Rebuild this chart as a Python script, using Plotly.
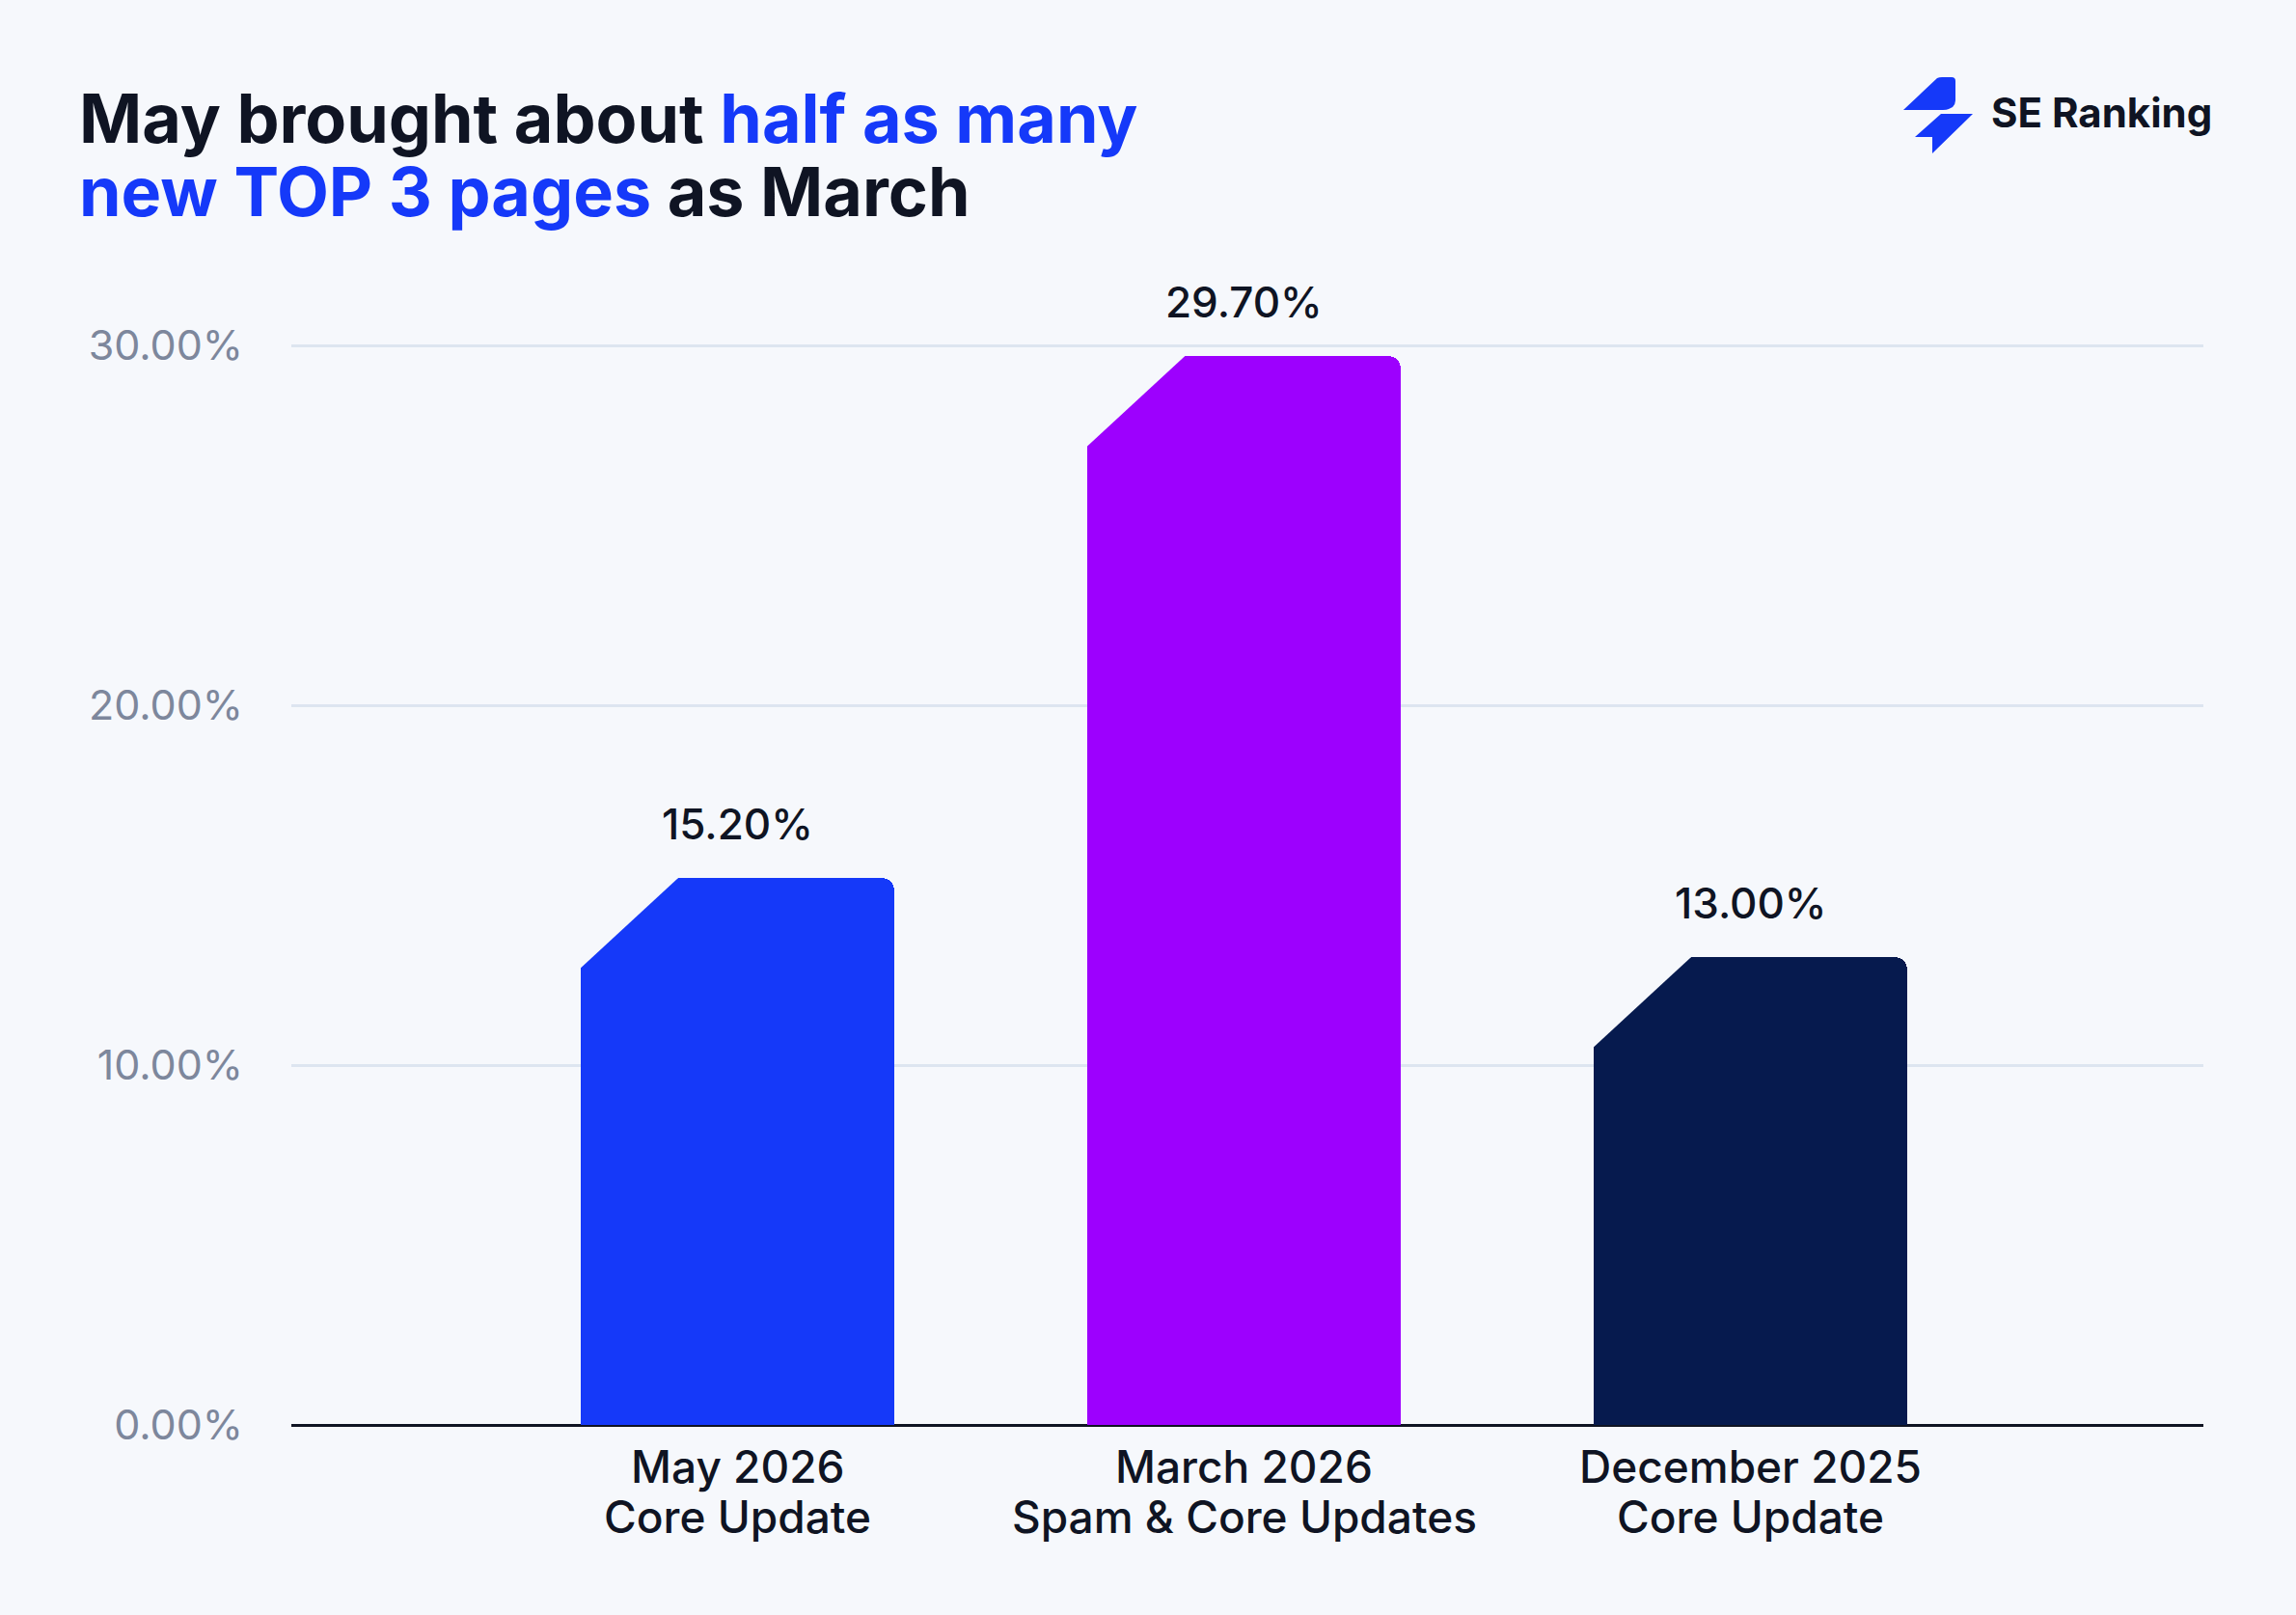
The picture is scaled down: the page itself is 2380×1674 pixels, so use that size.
import plotly.graph_objects as go

# ---- data ----
cat_line1 = ["May 2026", "March 2026", "December 2025"]
cat_line2 = ["Core Update", "Spam & Core Updates", "Core Update"]
values = [15.2, 29.7, 13.0]
bar_colors = ["#1539f9", "#9d00fe", "#061a4e"]
y_ticks = [0, 10, 20, 30]

BG = "#f6f8fc"
DARK = "#0f1423"
BLUE = "#1539f9"
FONT = "Inter"

W, H = 2380, 1674
Y_TOP = 30.3
ML, MR, MB = 302, 96, 197
MT = round(358 - (Y_TOP - 30) * (1477 - 358) / 30)
PW, PH = W - ML - MR, H - MT - MB

xpos = list(range(len(values)))
BAR_W = 0.62

fig = go.Figure()
fig.add_trace(go.Bar(
    x=xpos, y=values, width=BAR_W,
    marker=dict(color=bar_colors, line=dict(width=0), cornerradius=13),
    hoverinfo="skip", showlegend=False,
))

# value labels
for xi, v in zip(xpos, values):
    fig.add_annotation(x=xi, y=v, xref="x", yref="y", text=f"{v:.2f}%",
                       showarrow=False, yanchor="bottom", yshift=27,
                       font=dict(family=FONT, size=44, color=DARK, weight=500))

# category labels (two lines each)
for xi, l1, l2 in zip(xpos, cat_line1, cat_line2):
    fig.add_annotation(x=xi, y=0, xref="x", yref="y", text=l1, showarrow=False,
                       yanchor="middle", yshift=-43,
                       font=dict(family=FONT, size=46, color=DARK, weight=500))
    fig.add_annotation(x=xi, y=0, xref="x", yref="y", text=l2, showarrow=False,
                       yanchor="middle", yshift=-95,
                       font=dict(family=FONT, size=46, color=DARK, weight=500))

# chamfered top-left corners (background-coloured cut)
for xi, v in zip(xpos, values):
    fig.add_shape(type="path", xref="x", yref="y",
                  xsizemode="pixel", ysizemode="pixel",
                  xanchor=xi - BAR_W / 2, yanchor=v,
                  path="M -3,3 L 103,3 L 101,0 L -3,-96 Z",
                  fillcolor=BG, line=dict(width=0), layer="above")


def px2paper_x(px):
    return (px - ML) / PW


def px2paper_y(py):
    return (H - MB - py) / PH


# title (two lines)
fig.add_annotation(xref="paper", yref="paper", x=px2paper_x(80), y=px2paper_y(122),
                   xanchor="left", yanchor="middle", showarrow=False,
                   text=f"<span style='color:{DARK}'>May brought about </span><span style='color:{BLUE}'>half as many</span>",
                   font=dict(family=FONT, size=70, weight=700, color=DARK))
fig.add_annotation(xref="paper", yref="paper", x=px2paper_x(80), y=px2paper_y(198),
                   xanchor="left", yanchor="middle", showarrow=False,
                   text=f"<span style='color:{BLUE}'>new TOP 3 pages</span><span style='color:{DARK}'> as March</span>",
                   font=dict(family=FONT, size=70, weight=700, color=DARK))

# logo
ax0, ay0 = 1972, 80
fig.add_shape(type="path", xref="paper", yref="paper", xsizemode="pixel", ysizemode="pixel",
              xanchor=px2paper_x(ax0), yanchor=px2paper_y(ay0),
              path="M 1,-34 L 36,-1 Q 38,0 41,0 L 51,0 Q 55,0 55,-4 L 55,-24 Q 55,-28 52,-31 L 48,-33 Q 46,-34 42,-34 Z",
              fillcolor=BLUE, line=dict(width=0), layer="above")
fig.add_shape(type="path", xref="paper", yref="paper", xsizemode="pixel", ysizemode="pixel",
              xanchor=px2paper_x(ax0), yanchor=px2paper_y(ay0),
              path="M 13,-62 L 40,-38 L 73,-38 L 31,-79 L 31,-62 Z",
              fillcolor=BLUE, line=dict(width=0), layer="above")
fig.add_annotation(xref="paper", yref="paper", x=px2paper_x(2062), y=px2paper_y(117),
                   xanchor="left", yanchor="middle", showarrow=False,
                   text="SE Ranking",
                   font=dict(family=FONT, size=42, weight=700, color=DARK))

fig.update_layout(
    width=W, height=H,
    margin=dict(l=ML, r=MR, t=MT, b=MB, pad=0),
    paper_bgcolor=BG, plot_bgcolor=BG,
    bargap=0,
    font=dict(family=FONT, color=DARK),
    xaxis=dict(range=[-0.881, 2.894], tickvals=xpos, showticklabels=False,
               showgrid=False, zeroline=False, showline=False, ticks=""),
    yaxis=dict(range=[0, Y_TOP], tickvals=y_ticks, ticktext=[f"{t:.2f}%" for t in y_ticks],
               showgrid=True, gridcolor="#dde5f0", gridwidth=3,
               zeroline=True, zerolinecolor=DARK, zerolinewidth=3,
               showline=False, ticks="", ticklabelstandoff=49,
               tickfont=dict(family=FONT, size=43, color="#7d879c")),
)

fig.write_html("out.html")
